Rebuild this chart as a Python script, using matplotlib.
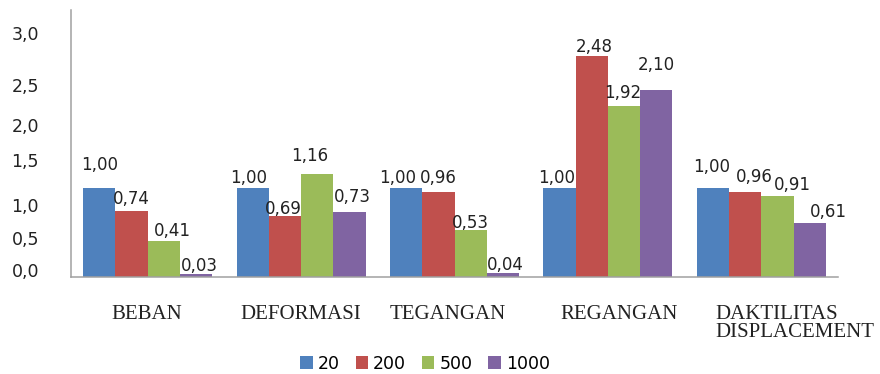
import numpy as np
import matplotlib.pyplot as plt
import matplotlib.transforms as mtransforms

categories = ['BEBAN', 'DEFORMASI', 'TEGANGAN', 'REGANGAN', 'DAKTILITAS\nDISPLACEMENT']
series_names = ['20', '200', '500', '1000']
vals_20 = [1.00, 1.00, 1.00, 1.00, 1.00]
vals_200 = [0.74, 0.69, 0.96, 2.48, 0.96]
vals_500 = [0.41, 1.16, 0.53, 1.92, 0.91]
vals_1000 = [0.03, 0.73, 0.04, 2.10, 0.61]
ytick_labels = ['0,0', '0,5', '1,0', '1,5', '2,0', '2,5', '3,0']

colors = ['#4F81BD', '#C0504D', '#9BBB59', '#8064A2']
series = [vals_20, vals_200, vals_500, vals_1000]

# where the y labels sit along the axis (they are not evenly spread)
ytick_pos = [0.08, 0.44, 0.81, 1.31, 1.71, 2.16, 2.74]

# nudges (pixels) for each value label, per series then per category
label_dx = [[0, -4, -9, -3, -1],
            [0, -2, 0, 2, 9],
            [9, -8, 0, -1, 15],
            [3, 3, 2, 0, 19]]
label_dy = [[23, 10, 10, 10, 21],
            [12, 7, 14, 9, 15],
            [10, 18, 7, 13, 11],
            [8, 15, 8, 25, 11]]

fig = plt.figure(figsize=(8.8, 3.74), dpi=100)
ax = fig.add_axes([71 / 880, 97 / 374, 767 / 880, 267 / 374])

x = np.arange(len(categories))
w = 0.21
for i, (vals, c) in enumerate(zip(series, colors)):
    pos = x + (i - 1.5) * w
    bars = ax.bar(pos, vals, w, color=c, label=series_names[i])
    for j, (b, v) in enumerate(zip(bars, vals)):
        ax.annotate(f'{v:.2f}'.replace('.', ','),
                    (b.get_x() + b.get_width() / 2, v),
                    xytext=(label_dx[i][j], label_dy[i][j]),
                    textcoords='offset pixels', ha='center', va='center',
                    fontsize=12, color='#222222')

ax.set_xlim(-0.5, len(categories) - 0.5)
ax.set_ylim(0, 3.0)
ax.set_yticks(ytick_pos)
ax.set_yticklabels(ytick_labels, fontsize=12.5, color='#222222')
ax.tick_params(axis='y', length=0, pad=23)

ax.set_xticks(x)
ax.set_xticklabels(categories, fontsize=15, family='Liberation Serif',
                   color='#222222', linespacing=0.95)
ax.tick_params(axis='x', length=0, pad=20)

# small horizontal shifts of the category names
shifts = [-1, 0, -7, 11, -46]
for lab, s in zip(ax.get_xticklabels(), shifts):
    lab.set_transform(lab.get_transform() +
                      mtransforms.ScaledTranslation(s / 100, 0, fig.dpi_scale_trans))
ax.get_xticklabels()[-1].set_horizontalalignment('left')
ax.get_xticklabels()[-1].set_multialignment('left')

for side in ['top', 'right']:
    ax.spines[side].set_visible(False)
for side in ['left', 'bottom']:
    ax.spines[side].set_color('#A0A0A0')
    ax.spines[side].set_linewidth(1.1)

fig.legend(loc='center', bbox_to_anchor=(0.483, 0.028), ncol=4, frameon=False,
           fontsize=12.5, handlelength=0.72, handleheight=0.72,
           handletextpad=0.3, columnspacing=0.9)

fig.savefig('out.png', dpi=100)
